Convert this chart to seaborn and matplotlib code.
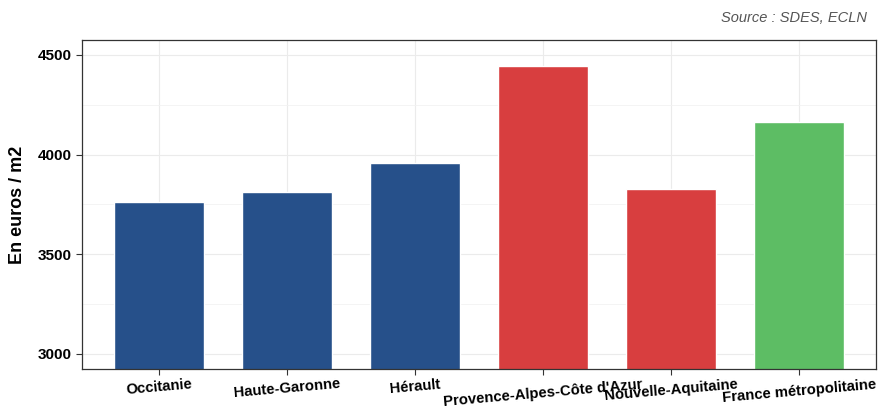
import matplotlib
matplotlib.use("Agg")
import matplotlib.pyplot as plt
import seaborn as sns
import pandas as pd
from matplotlib.ticker import MultipleLocator

categories = ["Occitanie", "Haute-Garonne", "Hérault", "Provence-Alpes-Côte d'Azur",
              "Nouvelle-Aquitaine", "France métropolitaine"]
values = [3760, 3810, 3960, 4445, 3825, 4165]
colors = ["#26508A", "#26508A", "#26508A", "#D83E3F", "#D83E3F", "#5DBD64"]
yticks = [3000, 3500, 4000, 4500]

sns.set_theme(style="white")
plt.rcParams["font.family"] = ["Liberation Sans", "DejaVu Sans"]

df = pd.DataFrame({"cat": categories, "val": values})

fig = plt.figure(figsize=(8.8, 4.08), dpi=100)
ax = fig.add_axes([0.0932, 0.096, 0.9023, 0.806])

sns.barplot(data=df, x="cat", y="val", hue="cat", palette=colors, width=0.7,
            legend=False, ax=ax, saturation=1, zorder=2)

ax.set_ylim(2925, 4575)
ax.set_yticks(yticks)
ax.yaxis.set_minor_locator(MultipleLocator(250))
ax.set_xlim(-0.6, 5.6)
ax.grid(True, which="major", color="#EBEBEB", linewidth=0.8, zorder=0)
ax.grid(True, which="minor", axis="y", color="#F2F2F2", linewidth=0.6, zorder=0)
ax.set_axisbelow(True)
for s in ax.spines.values():
    s.set_color("#333333")
    s.set_linewidth(0.9)

ax.tick_params(axis="both", which="major", length=4, width=0.8, color="#333333",
               left=True, bottom=True)
ax.tick_params(axis="x", which="major", pad=2)
ax.tick_params(axis="y", which="minor", length=0)
ax.set_xlabel("")
ax.set_ylabel("En euros / m2", fontsize=13, fontweight="bold", labelpad=8, color="black")
for lab in ax.get_yticklabels():
    lab.set_fontsize(11)
    lab.set_fontweight("bold")
    lab.set_color("black")
ax.set_xticks(range(len(categories)))
ax.set_xticklabels(categories, rotation=5, fontsize=10.7, fontweight="bold",
                   color="black", ha="center", va="top")

fig.text(0.985, 0.955, "Source : SDES, ECLN", ha="right", va="center",
         fontsize=10.5, style="italic", color="#555555")

fig.savefig("out.png", dpi=100)
